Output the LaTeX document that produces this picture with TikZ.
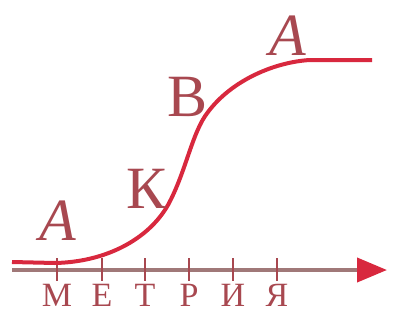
\documentclass[tikz,border=0pt]{standalone}
\usepackage{fontspec}
\setmainfont{Liberation Serif}
\usetikzlibrary{arrows.meta}
\definecolor{curvered}{HTML}{D8283E}
\definecolor{letterred}{HTML}{A84850}
\definecolor{axisgrey}{HTML}{A07878}
\begin{document}
\begin{tikzpicture}[x=1pt,y=-1pt,
  big/.style={text=letterred,font=\fontsize{60}{60}\selectfont,inner sep=0pt},
  small/.style={text=letterred,font=\fontsize{34}{34}\selectfont,inner sep=0pt},
  tick/.style={draw=letterred,line width=2pt}]
\useasboundingbox (0,0) rectangle (411,324);
% axis
\coordinate (ax0) at (12,270);
\coordinate (ax1) at (387,270);
\draw[axisgrey,line width=4pt,-{Triangle[length=30pt,width=24pt,color=curvered]}] (ax0) -- (ax1);
% ticks and letters
\foreach \x/\l/\n in {57/М/m,102/Е/e,145/Т/t,189/Р/r,233/И/i,277/Я/ya}{
  \coordinate (t\n a) at (\x,258);
  \coordinate (t\n b) at (\x,281);
  \draw[tick] (t\n a) -- (t\n b);
  \node[small,anchor=north] (l\n) at (\x,284) {\l};
}
% curve
\coordinate (c0) at (12,262);
\coordinate (c1) at (55,263);
\coordinate (c2) at (168,205);
\coordinate (c3) at (208,112);
\coordinate (c4) at (310,60);
\coordinate (c5) at (372,60);
\draw[curvered,line width=4pt] (c0) -- (c1)
  .. controls (105,262) and (148,240) .. (c2)
  .. controls (186,172) and (192,132) .. (c3)
  .. controls (232,80) and (275,62) .. (c4) -- (c5);
% letters
\node[big] (A1) at (58,221) {\itshape А};
\node[big] (K) at (147,189) {К};
\node[big] (B) at (188,97) {В};
\node[big] (A2) at (288,36) {\itshape А};
\end{tikzpicture}
\end{document}
